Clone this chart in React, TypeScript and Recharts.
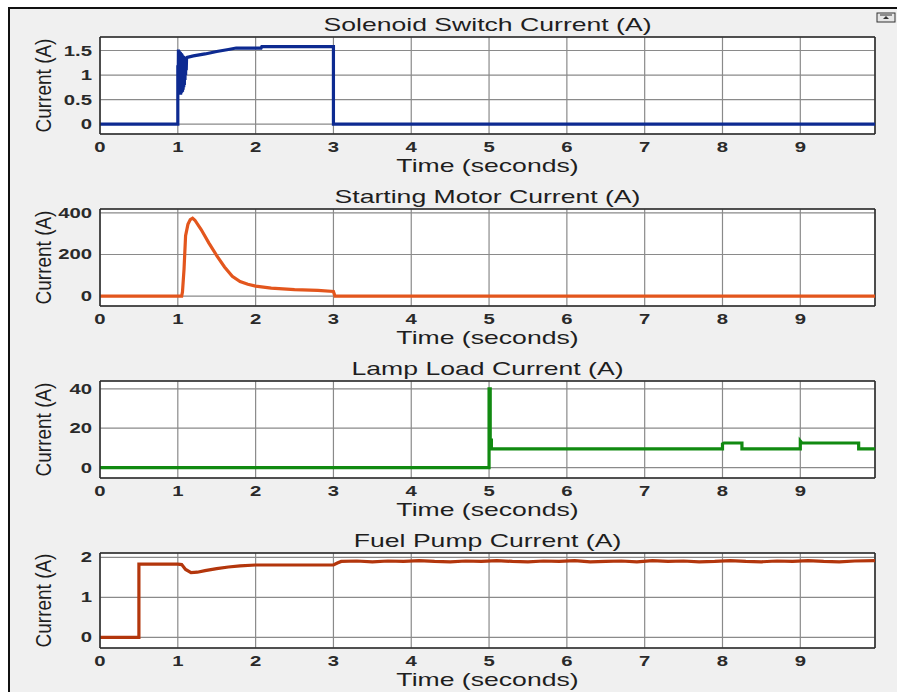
import React from 'react';
import { LineChart, Line, XAxis, YAxis, CartesianGrid, ReferenceLine } from 'recharts';

// time axis shared by the four scopes
const timeTicks = [0, 1, 2, 3, 4, 5, 6, 7, 8, 9];
const timeEnd = 9.96;

// Solenoid switch current
const solenoidT = [0, 1.0, 1.0, 1.004, 1.008, 1.012, 1.016, 1.02, 1.024, 1.028, 1.032, 1.036, 1.04, 1.044, 1.048, 1.052, 1.056, 1.06, 1.064, 1.068, 1.072, 1.076, 1.08, 1.084, 1.088, 1.092, 1.096, 1.1, 1.104, 1.108, 1.112, 1.12, 1.2, 1.35, 1.5, 1.65, 1.75, 2.07, 2.08, 3.0, 3.0, 9.96];
const solenoidI = [0, 0, 1.2, 0.7, 1.52, 0.62, 1.5, 0.6, 1.48, 0.62, 1.47, 0.6, 1.45, 0.63, 1.44, 0.65, 1.42, 0.66, 1.4, 0.7, 1.39, 0.75, 1.38, 0.8, 1.37, 0.9, 1.36, 1.0, 1.35, 1.1, 1.33, 1.36, 1.39, 1.43, 1.48, 1.52, 1.55, 1.55, 1.58, 1.58, 0, 0];
const solenoidTicks = [0, 0.5, 1, 1.5];

// Starting motor current
const motorT = [0, 1.05, 1.06, 1.08, 1.1, 1.13, 1.16, 1.19, 1.22, 1.3, 1.4, 1.5, 1.6, 1.7, 1.8, 1.9, 2.0, 2.2, 2.5, 2.8, 3.0, 3.02, 9.96];
const motorI = [0, 0, 20, 130, 290, 345, 368, 375, 365, 320, 255, 195, 140, 95, 70, 57, 48, 38, 31, 27, 22, 0, 0];
const motorTicks = [0, 200, 400];

// Lamp load current
const lampT = [0, 5.0, 5.0, 5.015, 5.015, 5.03, 5.03, 8.0, 8.0, 8.02, 8.25, 8.25, 9.0, 9.0, 9.02, 9.75, 9.75, 9.96];
const lampI = [0, 0, 40, 40, 14, 14, 9.5, 9.5, 12, 12.5, 12.5, 9.5, 9.5, 13.5, 12.5, 12.5, 9.5, 9.5];
const lampTicks = [0, 20, 40];

// Fuel pump current
const fuelT = [0, 0.5, 0.5, 1.0, 1.05, 1.1, 1.17, 1.25, 1.35, 1.5, 1.65, 1.8, 2.0, 2.5, 3.0, 3.05, 3.1, 3.3, 3.5, 3.7, 3.9, 4.1, 4.3, 4.5, 4.7, 4.9, 5.1, 5.3, 5.5, 5.7, 5.9, 6.1, 6.3, 6.5, 6.7, 6.9, 7.1, 7.3, 7.5, 7.7, 7.9, 8.1, 8.3, 8.5, 8.7, 8.9, 9.1, 9.3, 9.5, 9.7, 9.96];
const fuelI = [0, 0, 1.83, 1.83, 1.82, 1.7, 1.62, 1.63, 1.67, 1.72, 1.76, 1.79, 1.81, 1.81, 1.81, 1.86, 1.9, 1.91, 1.89, 1.91, 1.9, 1.92, 1.9, 1.89, 1.91, 1.9, 1.92, 1.9, 1.89, 1.91, 1.9, 1.92, 1.89, 1.9, 1.91, 1.89, 1.92, 1.9, 1.91, 1.89, 1.9, 1.92, 1.9, 1.89, 1.91, 1.9, 1.92, 1.9, 1.89, 1.91, 1.92];
const fuelTicks = [0, 1, 2];

const FONT = '"Liberation Sans", Arial, Helvetica, sans-serif';
const STRETCH = 1.4;
const TICK_STRETCH = 1.45;

const rowsOf = (ts: number[], vs: number[]) => ts.map((t, k) => ({ t, i: vs[k] }));

const XTick = (props: any) => {
  const { x, y, payload } = props;
  return (
    <text
      transform={`translate(${x},${y + 18}) scale(${TICK_STRETCH},1)`}
      textAnchor="middle"
      fontSize={14}
      fontWeight="bold"
      fontFamily={FONT}
      fill="#2a2a2a"
    >
      {payload.value}
    </text>
  );
};

const YTick = (props: any) => {
  const { x, y, payload } = props;
  return (
    <text
      transform={`translate(${x - 8},${y + 5}) scale(${TICK_STRETCH},1)`}
      textAnchor="end"
      fontSize={14}
      fontWeight="bold"
      fontFamily={FONT}
      fill="#2a2a2a"
    >
      {payload.value}
    </text>
  );
};

interface PanelProps {
  title: string;
  plotTop: number;
  plotBottom: number;
  rows: { t: number; i: number }[];
  color: string;
  yDomain: [number, number];
  yTicks: number[];
}

const PLOT_LEFT = 100;
const PLOT_RIGHT = 875;

const Panel: React.FC<PanelProps> = ({ title, plotTop, plotBottom, rows, color, yDomain, yTicks }) => {
  const plotH = plotBottom - plotTop;
  const cx = (PLOT_LEFT + PLOT_RIGHT) / 2;
  const cy = (plotTop + plotBottom) / 2;
  return (
    <>
      <div style={{ position: 'absolute', left: 0, top: plotTop - 5 }}>
        <LineChart
          width={897}
          height={5 + plotH + 40}
          data={rows}
          margin={{ top: 5, right: 897 - PLOT_RIGHT, bottom: 0, left: 40 }}
        >
          <CartesianGrid stroke="#8a8a8a" strokeWidth={1.2} fill="#ffffff" />
          <XAxis
            dataKey="t"
            type="number"
            domain={[0, timeEnd]}
            ticks={timeTicks}
            interval={0}
            allowDataOverflow
            height={40}
            tickSize={0}
            tickMargin={0}
            axisLine={{ stroke: '#2a2a2a', strokeWidth: 1.5 }}
            tick={XTick}
          />
          <YAxis
            type="number"
            domain={yDomain}
            ticks={yTicks}
            interval={0}
            allowDataOverflow
            width={60}
            tickSize={0}
            tickMargin={0}
            axisLine={{ stroke: '#2a2a2a', strokeWidth: 1.5 }}
            tick={YTick}
          />
          <ReferenceLine y={yDomain[1]} stroke="#2a2a2a" strokeWidth={1.5} />
          <ReferenceLine x={timeEnd} stroke="#2a2a2a" strokeWidth={1.5} />
          <Line
            type="linear"
            dataKey="i"
            stroke={color}
            strokeWidth={3.2}
            dot={false}
            isAnimationActive={false}
          />
        </LineChart>
      </div>
      <svg
        width={897}
        height={692}
        style={{ position: 'absolute', left: 0, top: 0, pointerEvents: 'none' }}
      >
        <text
          transform={`translate(${cx},${plotTop - 6}) scale(${STRETCH},1)`}
          textAnchor="middle"
          fontSize={19}
          fontFamily={FONT}
          fill="#1e1e1e"
        >
          {title}
        </text>
        <text
          transform={`translate(${cx},${plotBottom + 38}) scale(${STRETCH},1)`}
          textAnchor="middle"
          fontSize={19}
          fontFamily={FONT}
          fill="#1e1e1e"
        >
          Time (seconds)
        </text>
        <text
          transform={`translate(51,${cy}) rotate(-90) scale(1,1.2)`}
          textAnchor="middle"
          fontSize={19}
          fontFamily={FONT}
          fill="#1e1e1e"
        >
          Current (A)
        </text>
      </svg>
    </>
  );
};

export default function App() {
  return (
    <div
      style={{
        position: 'absolute',
        left: 0,
        top: 0,
        width: 897,
        height: 692,
        background: '#ffffff',
        overflow: 'hidden',
      }}
    >
      <div
        style={{
          position: 'absolute',
          left: 8,
          top: 7,
          width: 889,
          height: 685,
          background: '#f0f0f0',
          borderLeft: '2px solid #111',
          borderTop: '2px solid #111',
        }}
      />
      <svg width={897} height={692} style={{ position: 'absolute', left: 0, top: 0 }}>
        <rect x={877} y={13} width={18} height={9} fill="#e6e6e6" stroke="#333" strokeWidth={1} />
        <line x1={880} y1={15} x2={892} y2={15} stroke="#333" strokeWidth={1} />
        <path d="M886 16 L883 19 L889 19 Z" fill="#333" />
      </svg>
      <Panel
        title="Solenoid Switch Current (A)"
        plotTop={37}
        plotBottom={134}
        rows={rowsOf(solenoidT, solenoidI)}
        color="#0d2a91"
        yDomain={[-0.2, 1.775]}
        yTicks={solenoidTicks}
      />
      <Panel
        title="Starting Motor Current (A)"
        plotTop={209}
        plotBottom={306}
        rows={rowsOf(motorT, motorI)}
        color="#e3561d"
        yDomain={[-48, 419]}
        yTicks={motorTicks}
      />
      <Panel
        title="Lamp Load Current (A)"
        plotTop={381}
        plotBottom={478}
        rows={rowsOf(lampT, lampI)}
        color="#118a11"
        yDomain={[-5.3, 44]}
        yTicks={lampTicks}
      />
      <Panel
        title="Fuel Pump Current (A)"
        plotTop={553}
        plotBottom={648}
        rows={rowsOf(fuelT, fuelI)}
        color="#b3360c"
        yDomain={[-0.265, 2.11]}
        yTicks={fuelTicks}
      />
    </div>
  );
}
